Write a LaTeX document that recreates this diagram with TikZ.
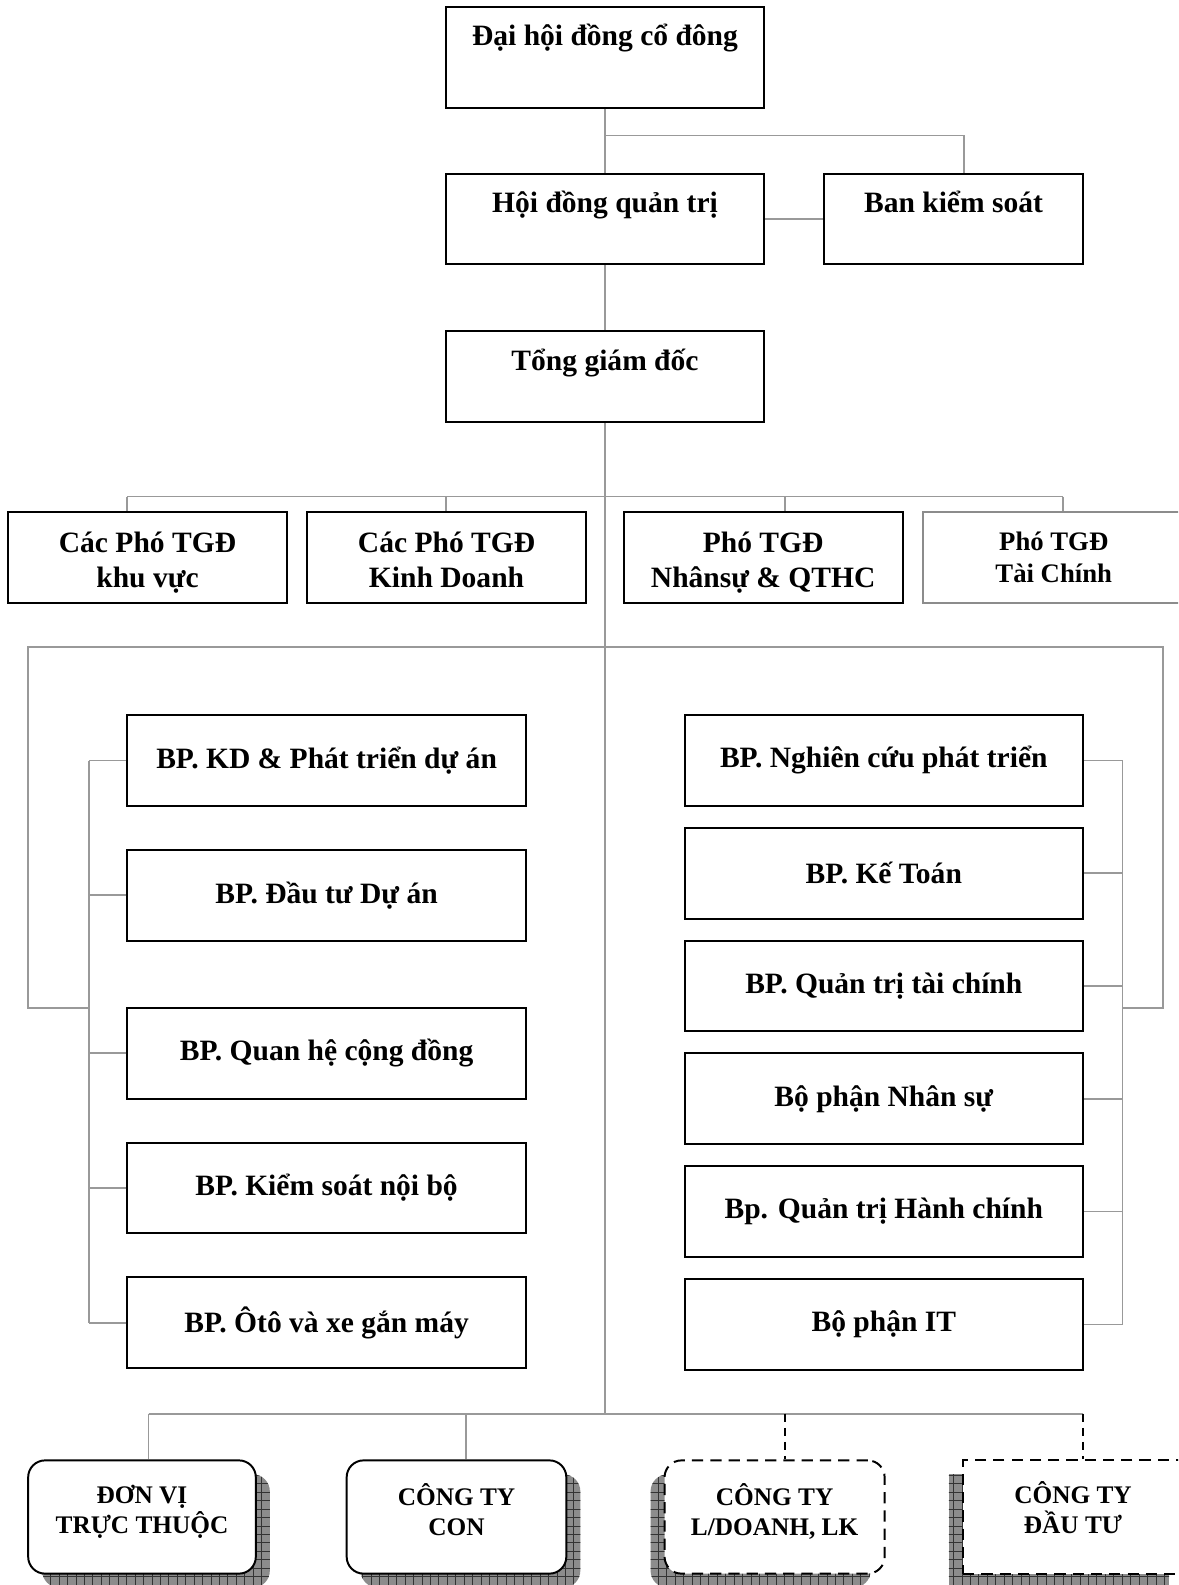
\documentclass[tikz,border=0pt]{standalone}
\usepackage{fontspec}
\setmainfont{Liberation Serif}
\usepackage{tikz}
\usetikzlibrary{positioning, patterns.meta}

\tikzdeclarepattern{
	name=shadowgrid,
	type=uncolored,
	bounding box={(-0.5pt,-0.5pt) and (6.5pt,6.5pt)},
	tile size={(6pt,6pt)},
	code={\draw[line width=0.5pt] (-0.5pt,0pt) -- (6.5pt,0pt) (0pt,-0.5pt) -- (0pt,6.5pt);}
}

\begin{document}
\begin{tikzpicture}[
		x=0.025cm, y=-0.025cm,
		base/.style={
			rectangle, draw=black, line width=1.4pt, fill=white,
			align=center, inner sep=2pt, font=\fontsize{21}{25}\selectfont\bfseries
		},
		headNode/.style={base, minimum width=7.95cm, minimum height=2.27cm},
		phoNode/.style={base, minimum width=6.975cm, minimum height=2.27cm},
		deptNode/.style={base, minimum width=9.96cm, minimum height=2.27cm, font=\fontsize{21}{24}\selectfont\bfseries},
		unitNode/.style={base, rounded corners=12pt, minimum width=5.5cm, minimum height=2.83cm, font=\fontsize{18}{21.5}\selectfont\bfseries},
		dashedNode/.style={unitNode, dash pattern=on 8pt off 5pt},
		shadowRight/.style={
			preaction={fill=black!45, transform canvas={shift={(14,14)}}},
			preaction={pattern=shadowgrid, pattern color=black!80, transform canvas={shift={(14,14)}}}
		},
		shadowLeft/.style={
			preaction={fill=black!45, transform canvas={shift={(-14,14)}}},
			preaction={pattern=shadowgrid, pattern color=black!80, transform canvas={shift={(-14,14)}}}
		},
		link/.style={draw=black!40, line width=1.2pt},
		dashlink/.style={draw=black, line width=1.2pt, dash pattern=on 6pt off 4pt}
		]
		
		\useasboundingbox (0,0) rectangle (1178,1585);
		\clip (0,0) rectangle (1178,1585);
		
		% board level
		\node[headNode, minimum height=2.525cm] (dhcd) at (605,57.5) {Đại hội đồng cổ đông\\ \strut};
		\node[headNode] (hdqt) at (605,219) {Hội đồng quản trị\\[-8pt] \strut};
		\node[headNode, minimum width=6.475cm] (bks) at (953.5,219) {Ban kiểm soát\\[-8pt] \strut};
		\node[headNode] (tgd) at (605,376.5) {Tổng giám đốc\\[-8pt] \strut};
		
		% deputies
		\node[phoNode] (pho1) at (147.5,557.5) {\vphantom{Ó}Các Phó TGĐ\\\smash{khu vực}};
		\node[phoNode] (pho2) [right=0.45cm of pho1] {\vphantom{Ó}Các Phó TGĐ\\\smash{Kinh Doanh}};
		\node[phoNode] (pho3) [right=0.89cm of pho2] {\vphantom{Ó}Phó TGĐ\\\smash{Nhânsự \& QTHC}};
		\node[phoNode, minimum width=6.55cm, draw=black!45, font=\fontsize{19}{23}\selectfont\bfseries] (pho4) [right=0.45cm of pho3] {Phó TGĐ\\Tài Chính};
		
		% left departments
		\node[deptNode] (kd) at (326.6,760.5) {BP. KD \& Phát triển dự án};
		\node[deptNode] (dtda) [below=1.05cm of kd] {BP. Đầu tư Dự án};
		\node[deptNode] (qh) [below=1.625cm of dtda] {BP. Quan hệ cộng đồng};
		\node[deptNode] (ks) [below=1.05cm of qh] {BP. Kiểm soát nội bộ};
		\node[deptNode] (oto) [below=1.05cm of ks] {BP. Ôtô và xe gắn máy};
		
		% right departments
		\node[deptNode] (nc) at (883.8,760.4) {BP. Nghiên cứu phát triển};
		\node[deptNode] (kt) [below=0.5cm of nc] {BP. Kế Toán};
		\node[deptNode] (tc) [below=0.5cm of kt] {BP. Quản trị tài chính};
		\node[deptNode] (ns) [below=0.5cm of tc] {Bộ phận Nhân sự};
		\node[deptNode] (hc) [below=0.5cm of ns] {Bp. Quản trị Hành chính};
		\node[deptNode] (it) [below=0.5cm of hc] {Bộ phận IT};
		
		% companies
		\node[unitNode, minimum width=5.69cm, shadowRight] (dvtt) at (142,1517) {ĐƠN VỊ\\TRỰC THUỘC\\[-17pt]\strut};
		\node[unitNode, minimum width=5.49cm, shadowRight] (ctcon) at (456.5,1517) {CÔNG TY\\CON\vphantom{Ộ}\\[-17pt]\strut};
		\node[dashedNode, shadowLeft] (ctld) at (774.6,1517) {CÔNG TY\\L/DOANH, LK\vphantom{Ộ}\\[-17pt]\strut};
		\node[dashedNode, sharp corners, shadowLeft] (ctdt) at (1073,1517) {CÔNG TY\\ĐẦU TƯ\\[-14pt]\strut};
		
		% connectors, top
		\coordinate (bk) at (963.7,135.5);
		\draw[link] (dhcd.south) -- (hdqt.north);
		\draw[link] (dhcd.south |- bk) -- (bk) -- (bk |- bks.north);
		\draw[link] (hdqt.east) -- (bks.west);
		\draw[link] (hdqt.south) -- (tgd.north);
		
		\coordinate (trunk) at (605,1413.7);
		\draw[link] (tgd.south) -- (trunk);
		
		\coordinate (p1) at (127,496.5);
		\coordinate (p2) at (446,496.5);
		\coordinate (p3) at (785,496.5);
		\coordinate (p4) at (1063,496.5);
		\draw[link] (p1) -- (p4);
		\foreach \i in {1,...,4}
			\draw[link] (p\i) -- (p\i |- pho\i.north);
		
		% frame and brackets
		\coordinate (lx) at (89,1008);
		\coordinate (rx) at (1122.5,1008);
		\draw[link] (lx) -- (28.3,1008) -- (28.3,647) -- (1163,647) -- (1163,1008) -- (rx);
		\draw[link] (kd.west -| lx) -- (oto.west -| lx);
		\foreach \n in {kd, dtda, qh, ks, oto}
			\draw[link] (\n.west) -- (\n.west -| lx);
		\draw[link] (nc.east -| rx) -- (it.east -| rx);
		\foreach \n in {nc, kt, tc, ns, hc, it}
			\draw[link] (\n.east) -- (\n.east -| rx);
		
		% connectors, bottom
		\coordinate (u1) at (148.6,1413.7);
		\coordinate (u2) at (466,1413.7);
		\coordinate (u3) at (784.7,1413.7);
		\coordinate (u4) at (1083,1413.7);
		\draw[link] (u1) -- (u4);
		\draw[link] (u1) -- (u1 |- dvtt.north);
		\draw[link] (u2) -- (u2 |- ctcon.north);
		\draw[dashlink] (u3) -- (u3 |- ctld.north);
		\draw[dashlink] (u4) -- (u4 |- ctdt.north);
	\end{tikzpicture}
\end{document}
